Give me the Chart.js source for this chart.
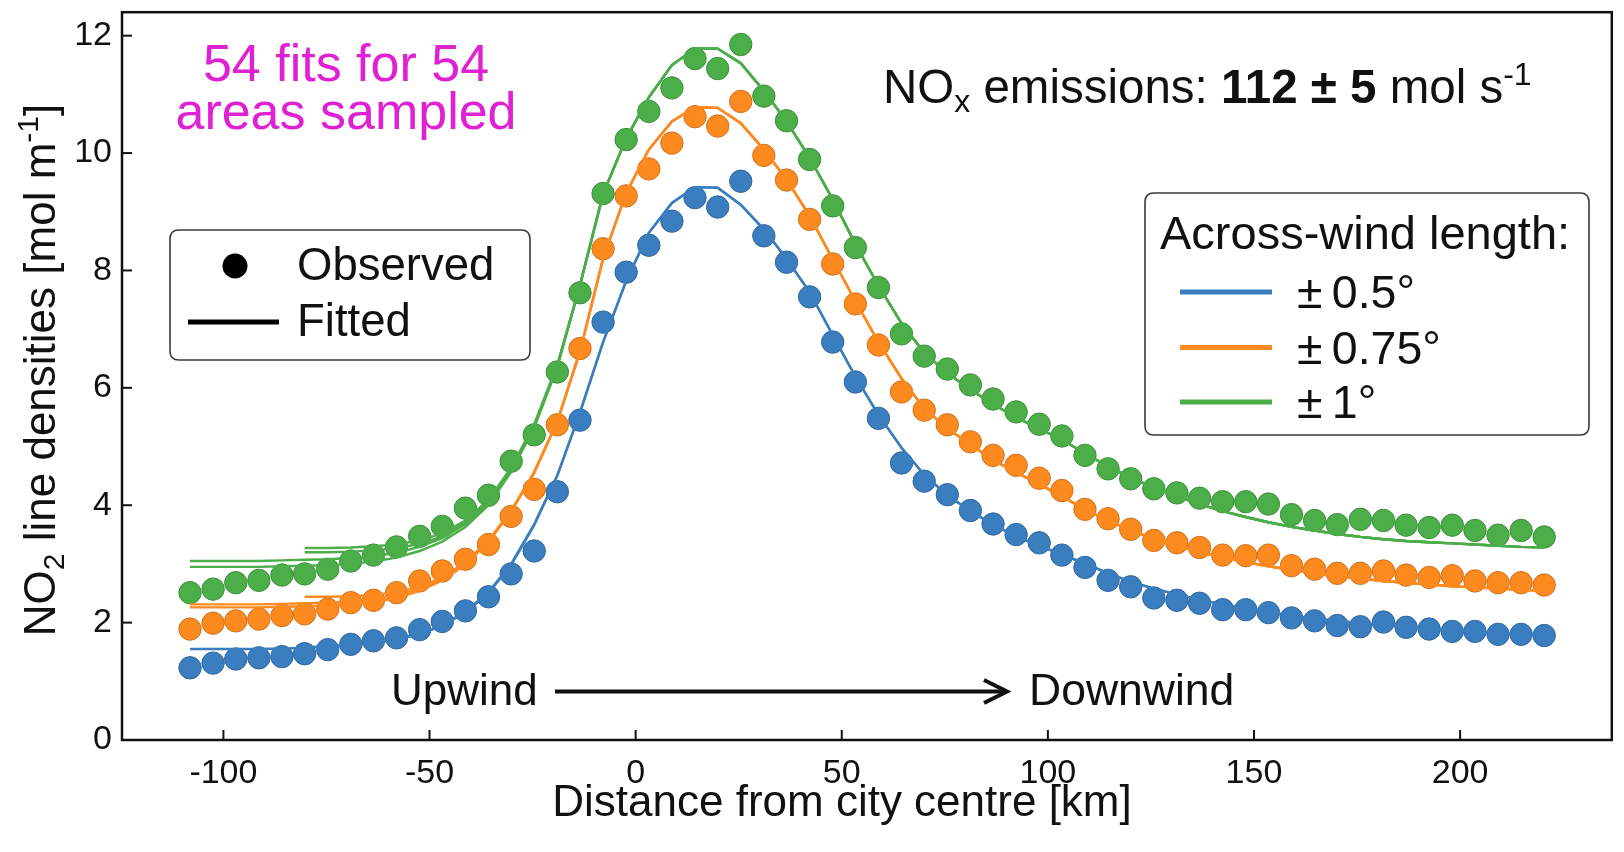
<!DOCTYPE html>
<html>
<head>
<meta charset="utf-8">
<script src="https://cdn.jsdelivr.net/npm/chart.js@4.4.1/dist/chart.umd.min.js"></script>
<style>
  html, body { margin: 0; padding: 0; background: #ffffff; }
  canvas { display: block; }
</style>
</head>
<body>
<canvas id="plume" width="1624" height="852"></canvas>
<script>
// Along-wind sample positions (km from the city centre)
const distanceKm = [
  -108.1, -102.5, -97.0, -91.4, -85.8, -80.3, -74.7, -69.1, -63.6, -58.0,
  -52.4, -46.9, -41.3, -35.7, -30.2, -24.6, -19.0, -13.5, -7.9, -2.3,
  3.2, 8.8, 14.4, 19.9, 25.5, 31.1, 36.6, 42.2, 47.8, 53.3,
  58.9, 64.5, 70.0, 75.6, 81.2, 86.7, 92.3, 97.9, 103.4, 109.0,
  114.6, 120.1, 125.7, 131.3, 136.8, 142.4, 148.0, 153.5, 159.1, 164.7,
  170.2, 175.8, 181.4, 186.9, 192.5, 198.1, 203.6, 209.2, 214.8, 220.4
];

// Observed NO2 line densities (mol m-1) for each across-wind length
const observedHalfDeg = [
  1.23, 1.31, 1.38, 1.40, 1.42, 1.47, 1.54, 1.63, 1.69, 1.74,
  1.88, 2.02, 2.20, 2.44, 2.83, 3.22, 4.23, 5.45, 7.12, 7.97,
  8.43, 8.84, 9.24, 9.08, 9.52, 8.59, 8.14, 7.55, 6.78, 6.10,
  5.48, 4.72, 4.41, 4.18, 3.91, 3.68, 3.50, 3.36, 3.15, 2.94,
  2.72, 2.61, 2.42, 2.38, 2.33, 2.22, 2.22, 2.17, 2.08, 2.03,
  1.95, 1.93, 2.01, 1.92, 1.89, 1.85, 1.85, 1.80, 1.80, 1.78
];
const observedThreeQuarterDeg = [
  1.89, 1.99, 2.03, 2.06, 2.12, 2.15, 2.23, 2.34, 2.38, 2.51,
  2.71, 2.88, 3.08, 3.33, 3.81, 4.27, 5.37, 6.67, 8.37, 9.27,
  9.73, 10.17, 10.62, 10.46, 10.88, 9.96, 9.54, 8.87, 8.11, 7.43,
  6.73, 5.93, 5.62, 5.37, 5.08, 4.85, 4.68, 4.46, 4.25, 3.93,
  3.77, 3.59, 3.40, 3.36, 3.28, 3.15, 3.14, 3.15, 2.97, 2.91,
  2.84, 2.84, 2.88, 2.81, 2.77, 2.80, 2.71, 2.68, 2.68, 2.64
];
const observedOneDeg = [
  2.51, 2.57, 2.68, 2.72, 2.81, 2.83, 2.91, 3.05, 3.15, 3.29,
  3.47, 3.64, 3.95, 4.17, 4.75, 5.20, 6.27, 7.62, 9.31, 10.23,
  10.71, 11.11, 11.61, 11.44, 11.85, 10.97, 10.55, 9.89, 9.10, 8.39,
  7.71, 6.92, 6.54, 6.32, 6.05, 5.81, 5.59, 5.38, 5.18, 4.85,
  4.62, 4.45, 4.28, 4.21, 4.12, 4.06, 4.06, 4.02, 3.84, 3.74,
  3.67, 3.76, 3.74, 3.66, 3.62, 3.66, 3.57, 3.49, 3.57, 3.46
];

// Fitted curves over the full sampled range
const fitHalfDeg = [
  1.55, 1.55, 1.55, 1.55, 1.56, 1.57, 1.59, 1.61, 1.65, 1.71,
  1.80, 1.95, 2.17, 2.50, 2.98, 3.66, 4.50, 5.58, 6.78, 7.82,
  8.64, 9.15, 9.42, 9.41, 9.12, 8.70, 8.20, 7.63, 6.90, 6.19,
  5.54, 4.98, 4.52, 4.17, 3.90, 3.67, 3.47, 3.31, 3.16, 3.01,
  2.84, 2.70, 2.58, 2.48, 2.39, 2.31, 2.24, 2.18, 2.12, 2.07,
  2.03, 1.99, 1.96, 1.93, 1.90, 1.87, 1.85, 1.82, 1.80, 1.78
];
const fitThreeQuarterDeg = [
  2.26, 2.26, 2.26, 2.26, 2.27, 2.28, 2.29, 2.31, 2.35, 2.42,
  2.54, 2.72, 2.99, 3.37, 3.89, 4.55, 5.42, 6.62, 8.20, 9.32,
  10.06, 10.54, 10.78, 10.77, 10.51, 10.06, 9.55, 8.93, 8.19, 7.48,
  6.78, 6.16, 5.65, 5.31, 5.03, 4.77, 4.56, 4.36, 4.15, 3.93,
  3.74, 3.57, 3.43, 3.31, 3.20, 3.11, 3.03, 2.96, 2.90, 2.84,
  2.79, 2.75, 2.71, 2.68, 2.65, 2.62, 2.60, 2.58, 2.56, 2.54
];
const fitOneDeg = [
  2.95, 2.95, 2.95, 2.95, 2.96, 2.97, 2.98, 3.00, 3.04, 3.11,
  3.22, 3.38, 3.63, 4.00, 4.57, 5.32, 6.35, 7.75, 9.30, 10.25,
  10.95, 11.50, 11.78, 11.78, 11.53, 11.06, 10.54, 9.92, 9.21, 8.45,
  7.74, 7.10, 6.60, 6.25, 5.97, 5.72, 5.50, 5.30, 5.12, 4.88,
  4.66, 4.47, 4.30, 4.15, 4.02, 3.90, 3.80, 3.71, 3.63, 3.57,
  3.51, 3.46, 3.42, 3.39, 3.37, 3.35, 3.33, 3.31, 3.29, 3.28
];

// Upwind parts of the other sampled-area fits (they join the curves above at -13.5 km)
const fitHalfDegFrom80 = [1.58, 1.60, 1.62, 1.66, 1.72, 1.81, 1.96, 2.19, 2.52, 3.00, 3.68, 4.51];
const fitThreeQuarterDegFull2 = [2.31, 2.31, 2.31, 2.31, 2.32, 2.33, 2.34, 2.36, 2.40, 2.46, 2.58, 2.75, 3.01, 3.39, 3.90, 4.56, 5.43];
const fitThreeQuarterDegFrom80 = [2.44, 2.44, 2.45, 2.47, 2.52, 2.61, 2.77, 3.03, 3.40, 3.91, 4.57, 5.43];
const fitOneDegFull2 = [3.05, 3.05, 3.05, 3.05, 3.06, 3.07, 3.08, 3.10, 3.13, 3.19, 3.29, 3.44, 3.68, 4.04, 4.60, 5.35, 6.37];
const fitOneDegFrom80a = [3.20, 3.20, 3.21, 3.23, 3.27, 3.34, 3.47, 3.70, 4.06, 4.62, 5.37, 6.38];
const fitOneDegFrom80b = [3.27, 3.27, 3.28, 3.30, 3.33, 3.40, 3.52, 3.74, 4.09, 4.64, 5.38, 6.39];

// Axis ticks
const xTickValues = [-100, -50, 0, 50, 100, 150, 200];
const yTickValues = [0, 2, 4, 6, 8, 10, 12];

const seriesNames = ['\u00b1\u20090.5\u00b0', '\u00b1\u20090.75\u00b0', '\u00b1\u20091\u00b0'];
const COLORS = { blue: '#3a7ebf', orange: '#fd8a1f', green: '#4cae49' };
const EDGES = { blue: '#2f679e', orange: '#cf711c', green: '#3c8f3a' };
const FONT = '"Liberation Sans", Arial, Helvetica, sans-serif';
const INK = '#111111';

function pts(values, from, to) {
  const out = [];
  for (let k = from; k <= to; k++) out.push({ x: distanceKm[k], y: values[k] });
  return out;
}
// an upwind fit segment that starts at index `start` and continues along `main`
function joined(start, upwind, main, end) {
  const out = upwind.map((y, i) => ({ x: distanceKm[start + i], y }));
  for (let k = start + upwind.length; k <= end; k++) out.push({ x: distanceKm[k], y: main[k] });
  return out;
}

const last = distanceKm.length - 1;

function dots(values, key, order) {
  return {
    type: 'scatter', data: pts(values, 0, last), order,
    backgroundColor: COLORS[key], borderColor: EDGES[key],
    pointRadius: 11.2, pointHoverRadius: 11.2, pointBorderWidth: 1, showLine: false
  };
}
function fitLine(data, key) {
  return {
    type: 'line', data, order: 0, showLine: true, fill: false,
    borderColor: COLORS[key], borderWidth: 2.4, pointRadius: 0, tension: 0
  };
}

const datasets = [
  dots(observedOneDeg, 'green', 1),
  dots(observedThreeQuarterDeg, 'orange', 2),
  dots(observedHalfDeg, 'blue', 3),
  fitLine(pts(fitHalfDeg, 0, last), 'blue'),
  fitLine(joined(5, fitHalfDegFrom80, fitHalfDeg, last), 'blue'),
  fitLine(pts(fitThreeQuarterDeg, 0, last), 'orange'),
  fitLine(joined(0, fitThreeQuarterDegFull2, fitThreeQuarterDeg, last), 'orange'),
  fitLine(joined(5, fitThreeQuarterDegFrom80, fitThreeQuarterDeg, last), 'orange'),
  fitLine(pts(fitOneDeg, 0, last), 'green'),
  fitLine(joined(0, fitOneDegFull2, fitOneDeg, 54), 'green'),
  fitLine(joined(5, fitOneDegFrom80a, fitOneDeg, last), 'green'),
  fitLine(joined(5, fitOneDegFrom80b, fitOneDeg, last), 'green')
];

function fontStr(size, bold) { return (bold ? 'bold ' : '') + size + 'px ' + FONT; }

// draw a run of text pieces (sub/superscripts, bold parts) on one baseline
function drawRuns(ctx, runs, x, y, align) {
  let total = 0;
  runs.forEach(r => { ctx.font = fontStr(r.size, r.bold); r.w = ctx.measureText(r.t).width; total += r.w; });
  let cx = align === 'center' ? x - total / 2 : x;
  ctx.textAlign = 'left';
  ctx.textBaseline = 'alphabetic';
  runs.forEach(r => { ctx.font = fontStr(r.size, r.bold); ctx.fillText(r.t, cx, y + (r.dy || 0)); cx += r.w; });
}

function roundBox(ctx, x, y, w, h, r) {
  ctx.beginPath();
  ctx.moveTo(x + r, y);
  ctx.lineTo(x + w - r, y); ctx.quadraticCurveTo(x + w, y, x + w, y + r);
  ctx.lineTo(x + w, y + h - r); ctx.quadraticCurveTo(x + w, y + h, x + w - r, y + h);
  ctx.lineTo(x + r, y + h); ctx.quadraticCurveTo(x, y + h, x, y + h - r);
  ctx.lineTo(x, y + r); ctx.quadraticCurveTo(x, y, x + r, y);
  ctx.closePath();
  ctx.fillStyle = 'rgba(255,255,255,0.85)';
  ctx.fill();
  ctx.strokeStyle = '#3a3a3a';
  ctx.lineWidth = 1.6;
  ctx.stroke();
}

const decorations = {
  id: 'decorations',
  afterDraw(chart) {
    const { ctx, chartArea: a, scales } = chart;
    const sx = scales.x, sy = scales.y;
    ctx.save();

    // inward tick marks
    ctx.strokeStyle = INK;
    ctx.lineWidth = 2;
    xTickValues.forEach(v => {
      const px = sx.getPixelForValue(v);
      ctx.beginPath(); ctx.moveTo(px, a.bottom); ctx.lineTo(px, a.bottom - 10); ctx.stroke();
    });
    yTickValues.forEach(v => {
      const py = sy.getPixelForValue(v);
      ctx.beginPath(); ctx.moveTo(a.left, py); ctx.lineTo(a.left + 10, py); ctx.stroke();
    });

    // frame
    ctx.lineWidth = 2.5;
    ctx.strokeRect(a.left, a.top, a.right - a.left, a.bottom - a.top);

    ctx.fillStyle = INK;
    // axis titles
    drawRuns(ctx, [{ t: 'Distance from city centre [km]', size: 44 }], 842, 816, 'center');
    ctx.save();
    ctx.translate(55, 370);
    ctx.rotate(-Math.PI / 2);
    ctx.fillStyle = INK;
    drawRuns(ctx, [
      { t: 'NO', size: 44 }, { t: '2', size: 30, dy: 9 },
      { t: ' line densities [mol m', size: 44 }, { t: '-1', size: 30, dy: -17 },
      { t: ']', size: 44 }
    ], 0, 0, 'center');
    ctx.restore();

    // annotation texts
    ctx.fillStyle = '#e021d3';
    drawRuns(ctx, [{ t: '54 fits for 54', size: 52 }], 346, 81, 'center');
    drawRuns(ctx, [{ t: 'areas sampled', size: 52 }], 346, 129, 'center');

    ctx.fillStyle = INK;
    drawRuns(ctx, [
      { t: 'NO', size: 47.5 }, { t: 'x', size: 32, dy: 9 },
      { t: ' emissions: ', size: 47.5 }, { t: '112 \u00b1 5', size: 47.5, bold: true },
      { t: ' mol s', size: 47.5 }, { t: '-1', size: 32, dy: -18 }
    ], 883, 103, 'left');

    // upwind -> downwind arrow
    drawRuns(ctx, [{ t: 'Upwind', size: 44 }], 391, 705, 'left');
    drawRuns(ctx, [{ t: 'Downwind', size: 44.5 }], 1029, 705, 'left');
    ctx.strokeStyle = INK;
    ctx.lineWidth = 4;
    ctx.lineCap = 'butt';
    ctx.beginPath(); ctx.moveTo(555, 691.5); ctx.lineTo(1006, 691.5); ctx.stroke();
    ctx.lineJoin = 'miter';
    ctx.beginPath(); ctx.moveTo(984, 680); ctx.lineTo(1007, 691.5); ctx.lineTo(984, 703); ctx.stroke();

    // marker-type legend
    roundBox(ctx, 170, 230, 360, 130, 9);
    ctx.fillStyle = '#000';
    ctx.beginPath(); ctx.arc(235, 266, 12.5, 0, Math.PI * 2); ctx.fill();
    ctx.strokeStyle = '#000'; ctx.lineWidth = 5;
    ctx.beginPath(); ctx.moveTo(188, 322); ctx.lineTo(279, 322); ctx.stroke();
    ctx.fillStyle = INK;
    drawRuns(ctx, [{ t: 'Observed', size: 45.5 }], 297, 280, 'left');
    drawRuns(ctx, [{ t: 'Fitted', size: 45.5 }], 297, 336, 'left');

    // across-wind length legend
    roundBox(ctx, 1145, 193, 444, 242, 9);
    ctx.fillStyle = INK;
    drawRuns(ctx, [{ t: 'Across-wind length:', size: 47 }], 1160, 249, 'left');
    const keys = ['blue', 'orange', 'green'];
    const rows = [292, 347.5, 402];
    keys.forEach((k, i) => {
      ctx.strokeStyle = COLORS[k]; ctx.lineWidth = 5;
      ctx.beginPath(); ctx.moveTo(1180, rows[i]); ctx.lineTo(1272, rows[i]); ctx.stroke();
      ctx.fillStyle = INK;
      drawRuns(ctx, [{ t: seriesNames[i], size: 46.5 }], 1297, rows[i] + 16, 'left');
    });

    ctx.restore();
  }
};

new Chart(document.getElementById('plume'), {
  type: 'scatter',
  data: { datasets },
  options: {
    responsive: false,
    animation: false,
    events: [],
    layout: { padding: { left: 0, top: 8, right: 9, bottom: 0 } },
    plugins: { legend: { display: false }, tooltip: { enabled: false } },
    scales: {
      x: {
        type: 'linear', min: -124.6, max: 236.8,
        afterFit: s => { s.height = 112; s.paddingLeft = 0; s.paddingRight = 0; },
        afterBuildTicks: s => { s.ticks = xTickValues.map(v => ({ value: v })); },
        grid: { display: false, drawTicks: false },
        border: { display: false },
        ticks: { color: INK, padding: 13, maxRotation: 0, autoSkip: false,
                 font: { size: 34, family: FONT }, callback: v => String(v) }
      },
      y: {
        type: 'linear', min: 0, max: 12.4,
        afterFit: s => { s.width = 122; s.paddingTop = 0; s.paddingBottom = 0; },
        afterBuildTicks: s => { s.ticks = yTickValues.map(v => ({ value: v })); },
        grid: { display: false, drawTicks: false },
        border: { display: false },
        ticks: { color: INK, padding: 10, autoSkip: false,
                 font: { size: 34, family: FONT }, callback: v => String(v) }
      }
    }
  },
  plugins: [decorations]
});
</script>
</body>
</html>
